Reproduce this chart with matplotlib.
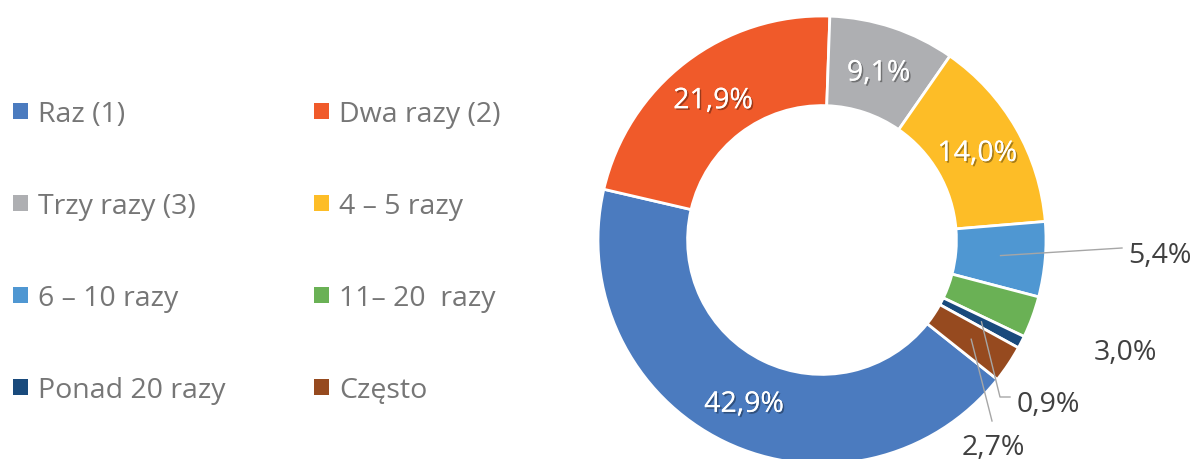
import numpy as np
import matplotlib.pyplot as plt
import matplotlib.patheffects as pe
from matplotlib.patches import Patch

# dados
categorias = ['Raz (1)', 'Dwa razy (2)', 'Trzy razy (3)', '4 – 5 razy',
              '6 – 10 razy', '11– 20  razy', 'Ponad 20 razy', 'Często']
valores = [42.9, 21.9, 9.1, 14.0, 5.4, 3.0, 0.9, 2.7]
cores = ['#4B7BBF', '#F05A2A', '#AEAFB2', '#FDBD27',
         '#4F97D2', '#6AB155', '#194A7C', '#964A1F']

plt.rcParams['font.family'] = ['Open Sans', 'DejaVu Sans']

fig = plt.figure(figsize=(11.92, 4.6), dpi=100)
ax = fig.add_axes([0, 0, 1, 1])

# centro e raio do anel em pixels
cx, cy, R = 822, 241, 224


def px(x, y):
    return ((x - cx) / R, (cy - y) / R)


fatias, _ = ax.pie(valores, colors=cores, startangle=-38.5, counterclock=False,
                   radius=1, wedgeprops=dict(width=0.4, edgecolor='white', linewidth=2))

ax.set_xlim(px(0, 0)[0], px(1192, 0)[0])
ax.set_ylim(px(0, 460)[1], px(0, 0)[1])
ax.set_aspect('auto')
ax.axis('off')


def rotulo(v):
    return f'{v:.1f}'.replace('.', ',') + '%'


def meio(w, r=0.8):
    a = np.deg2rad((w.theta1 + w.theta2) / 2)
    return r * np.cos(a), r * np.sin(a)


sombra = [pe.withSimplePatchShadow(offset=(1.2, -1.2), shadow_rgbFace='black', alpha=0.35),
          pe.Normal()]

# rotulos internos
for i in range(4):
    x, y = meio(fatias[i])
    ax.text(x, y, rotulo(valores[i]), ha='center', va='center_baseline',
            color='white', fontsize=20.5, path_effects=sombra)

# rotulos externos: (posicao do texto, alinhamento, pontos da linha)
externos = {
    4: ((1128, 263), 'left', [(1122, 249)]),
    5: ((1125, 360), 'center', None),
    6: ((1017, 412), 'left', [(1000, 398), (1010, 398)]),
    7: ((993, 455), 'center', [(992, 422)]),
}
for i, (pos, ha, linha) in externos.items():
    if linha:
        pts = [meio(fatias[i])] + [px(*p) for p in linha]
        xs, ys = zip(*pts)
        ax.plot(xs, ys, color='#A6A6A6', lw=1)
    ax.text(*px(*pos), rotulo(valores[i]), ha=ha, va='baseline',
            color='#404040', fontsize=20.5)

# legenda em duas colunas
ordem = [0, 2, 4, 6, 1, 3, 5, 7]
alcas = [Patch(facecolor=cores[i], edgecolor='none', label=categorias[i]) for i in ordem]
fig.legend(handles=alcas, loc='upper left', bbox_to_anchor=(13 / 1192, 1 - 101 / 460),
           ncol=2, frameon=False, fontsize=20.5, labelcolor='#767676',
           handlelength=0.53, handleheight=0.53, handletextpad=0.35,
           labelspacing=2.25, columnspacing=3.1, borderpad=0, borderaxespad=0)

fig.savefig('out.png', dpi=100)
